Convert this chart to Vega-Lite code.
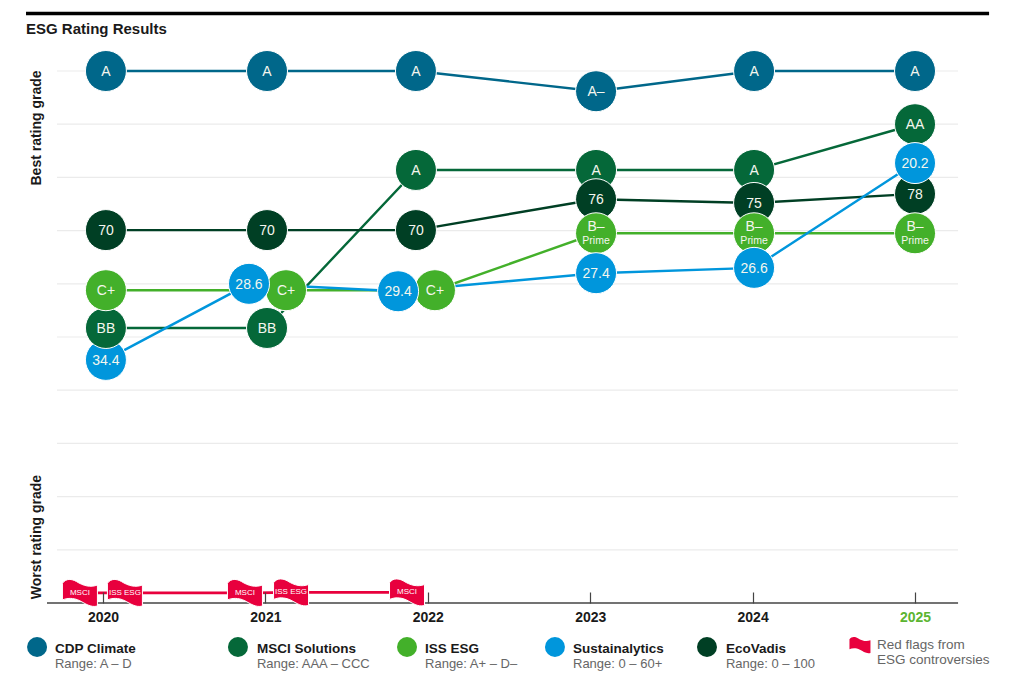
{
"$schema":"https://vega.github.io/schema/vega-lite/v6.json",
"width":1011,"height":675,"autosize":{"type":"none"},"padding":0,"background":"white",
"config":{"view":{"stroke":null},"text":{"font":"Liberation Sans"}},
"datasets":{
"ratings":[
{"series":"CDP Climate","x":2025.0,"y":10,"label":"A"},
{"series":"MSCI Solutions","x":2025.0,"y":9.0,"label":"AA"},
{"series":"EcoVadis","x":2025.0,"y":7.69,"label":"78"},
{"series":"ISS ESG","x":2025.0,"y":6.95,"label":"B–","sub":"Prime"},
{"series":"Sustainalytics","x":2025.0,"y":8.27,"label":"20.2"},
{"series":"CDP Climate","x":2024.009,"y":10,"label":"A"},
{"series":"MSCI Solutions","x":2024.009,"y":8.14,"label":"A"},
{"series":"EcoVadis","x":2024.009,"y":7.52,"label":"75"},
{"series":"ISS ESG","x":2024.009,"y":6.95,"label":"B–","sub":"Prime"},
{"series":"Sustainalytics","x":2024.009,"y":6.3,"label":"26.6"},
{"series":"CDP Climate","x":2023.036,"y":9.62,"label":"A–"},
{"series":"MSCI Solutions","x":2023.036,"y":8.14,"label":"A"},
{"series":"EcoVadis","x":2023.036,"y":7.59,"label":"76"},
{"series":"ISS ESG","x":2023.036,"y":6.95,"label":"B–","sub":"Prime"},
{"series":"Sustainalytics","x":2023.036,"y":6.2,"label":"27.4"},
{"series":"CDP Climate","x":2021.927,"y":10,"label":"A"},
{"series":"MSCI Solutions","x":2021.927,"y":8.14,"label":"A"},
{"series":"EcoVadis","x":2021.927,"y":7.01,"label":"70"},
{"series":"ISS ESG","x":2022.044,"y":5.88,"label":"C+"},
{"series":"Sustainalytics","x":2021.817,"y":5.86,"label":"29.4"},
{"series":"CDP Climate","x":2021.01,"y":10,"label":"A"},
{"series":"EcoVadis","x":2021.01,"y":7.01,"label":"70"},
{"series":"MSCI Solutions","x":2021.01,"y":5.17,"label":"BB"},
{"series":"ISS ESG","x":2021.127,"y":5.88,"label":"C+"},
{"series":"Sustainalytics","x":2020.899,"y":6.0,"label":"28.6"},
{"series":"CDP Climate","x":2020.018,"y":10,"label":"A"},
{"series":"EcoVadis","x":2020.018,"y":7.01,"label":"70"},
{"series":"Sustainalytics","x":2020.018,"y":4.57,"label":"34.4"},
{"series":"MSCI Solutions","x":2020.018,"y":5.17,"label":"BB"},
{"series":"ISS ESG","x":2020.018,"y":5.88,"label":"C+"}
],
"grid":[
{"y":1,"x":2019.717,"x2":2025.265},{"y":2,"x":2019.717,"x2":2025.265},{"y":3,"x":2019.717,"x2":2025.265},{"y":4,"x":2019.717,"x2":2025.265},{"y":5,"x":2019.717,"x2":2025.265},{"y":6,"x":2019.717,"x2":2025.265},{"y":7,"x":2019.717,"x2":2025.265},{"y":8,"x":2019.717,"x2":2025.265},{"y":9,"x":2019.717,"x2":2025.265},{"y":10,"x":2019.717,"x2":2025.265}],
"flags":[
{"x":2019.858,"y":0.19,"label":"MSCI"},
{"x":2020.135,"y":0.19,"label":"ISS ESG"},
{"x":2020.874,"y":0.19,"label":"MSCI"},
{"x":2021.158,"y":0.2,"label":"ISS ESG"},
{"x":2021.872,"y":0.2,"label":"MSCI"}
],
"legend":[
{"series":"CDP Climate","x":2019.594,"y":-0.827,"tx":2019.704,"ty":-0.865,"ry":-1.147,"range":"Range: A – D"},
{"series":"MSCI Solutions","x":2020.831,"y":-0.827,"tx":2020.948,"ty":-0.865,"ry":-1.147,"range":"Range: AAA – CCC"},
{"series":"ISS ESG","x":2021.872,"y":-0.827,"tx":2021.983,"ty":-0.865,"ry":-1.147,"range":"Range: A+ – D–"},
{"series":"Sustainalytics","x":2022.783,"y":-0.827,"tx":2022.894,"ty":-0.865,"ry":-1.147,"range":"Range: 0 – 60+"},
{"series":"EcoVadis","x":2023.719,"y":-0.827,"tx":2023.836,"ty":-0.865,"ry":-1.147,"range":"Range: 0 – 100"}
]
},
"encoding":{
"x":{"field":"x","type":"quantitative","title":null,"scale":{"domain":[2019.3658,2025.591],"nice":false,"zero":false},
"axis":{"values":[2020,2021,2022,2023,2024,2025],"format":"d","offset":-72,"domain":false,"grid":false,"tickSize":-11,"tickColor":"#444444","tickWidth":1.2,"labelPadding":18,"labelFont":"Liberation Sans","labelFontWeight":"bold","labelFontSize":14,"labelColor":{"condition":{"test":"datum.value==2025","value":"#5cb531"},"value":"#1a1a1a"},"zindex":1}},
"y":{"field":"y","type":"quantitative","title":null,"scale":{"domain":[-1.353,11.335],"nice":false,"zero":false},"axis":null}
},
"layer":[
{"data":{"name":"grid"},"mark":{"type":"rule","color":"#ebebeb","strokeWidth":1.2},"encoding":{"x2":{"field":"x2"}}},
{"data":{"values":[{"y":0,"x":2019.655,"x2":2025.265}]},"mark":{"type":"rule","color":"#444444","strokeWidth":1.3},"encoding":{"x2":{"field":"x2"}}},
{"data":{"values":[{"y":11.08,"x":2019.526,"x2":2025.456}]},"mark":{"type":"rule","color":"#000000","strokeWidth":3.5},"encoding":{"x2":{"field":"x2"}}},
{"data":{"name":"ratings"},"mark":{"type":"line","strokeWidth":2.4},"encoding":{"color":{"field":"series","type":"nominal","legend":null,"scale":{"domain":["CDP Climate","MSCI Solutions","ISS ESG","Sustainalytics","EcoVadis"],"range":["#00678a","#056839","#43b02a","#0096dc","#003f24"]}}}},
{"data":{"name":"ratings"},"mark":{"type":"circle","size":1681,"opacity":1,"stroke":"#ffffff","strokeWidth":1},"encoding":{"color":{"field":"series","type":"nominal"}}},
{"data":{"name":"ratings"},"transform":[{"filter":"!datum.sub"}],"mark":{"type":"text","fontSize":14,"color":"#f4f6ee","dy":1},"encoding":{"text":{"field":"label"}}},
{"data":{"name":"ratings"},"transform":[{"filter":"datum.sub"}],"mark":{"type":"text","fontSize":14,"color":"#f4f6ee","dy":-6},"encoding":{"text":{"field":"label"}}},
{"data":{"name":"ratings"},"transform":[{"filter":"datum.sub"}],"mark":{"type":"text","fontSize":10.5,"color":"#f4f6ee","dy":8},"encoding":{"text":{"field":"sub"}}},
{"data":{"name":"flags"},"mark":{"type":"line","color":"#ffffff","strokeWidth":5}},
{"data":{"name":"flags"},"mark":{"type":"line","color":"#e8003d","strokeWidth":2.8}},
{"data":{"name":"flags"},"mark":{"type":"point","filled":true,"opacity":1,"shape":"M-1,-0.55 C-0.8,-0.85 -0.45,-0.8 -0.2,-0.65 C0.2,-0.4 0.6,-0.3 1,-0.45 L1,0.75 C0.6,0.85 0.3,0.6 0,0.45 C-0.4,0.25 -0.75,0.3 -1,0.4 Z","size":1225,"fill":"#e8003d","stroke":"#ffffff","strokeWidth":1}},
{"data":{"name":"flags"},"mark":{"type":"text","fontSize":8,"color":"#ffffff"},"encoding":{"text":{"field":"label"}}},
{"data":{"values":[{"x":2019.594,"y":8.93,"t":"Best rating grade"},{"x":2019.594,"y":1.24,"t":"Worst rating grade"}]},"mark":{"type":"text","angle":270,"fontSize":14,"fontWeight":"bold","color":"#1a1a1a"},"encoding":{"text":{"field":"t"}}},
{"data":{"values":[{"x":2019.526,"y":10.79,"t":"ESG Rating Results"}]},"mark":{"type":"text","align":"left","fontSize":15,"fontWeight":"bold","color":"#1a1a1a"},"encoding":{"text":{"field":"t"}}},
{"data":{"name":"legend"},"mark":{"type":"circle","size":400,"opacity":1},"encoding":{"color":{"field":"series","type":"nominal"}}},
{"data":{"name":"legend"},"mark":{"type":"text","align":"left","fontSize":13.5,"fontWeight":"bold","color":"#1a1a1a"},"encoding":{"x":{"field":"tx","type":"quantitative"},"y":{"field":"ty","type":"quantitative"},"text":{"field":"series"}}},
{"data":{"name":"legend"},"mark":{"type":"text","align":"left","fontSize":13,"color":"#666666"},"encoding":{"x":{"field":"tx","type":"quantitative"},"y":{"field":"ry","type":"quantitative"},"text":{"field":"range"}}},
{"data":{"values":[{"x":2024.661,"y":-0.79}]},"mark":{"type":"point","filled":true,"opacity":1,"shape":"M-1,-0.55 C-0.8,-0.85 -0.45,-0.8 -0.2,-0.65 C0.2,-0.4 0.6,-0.3 1,-0.45 L1,0.75 C0.6,0.85 0.3,0.6 0,0.45 C-0.4,0.25 -0.75,0.3 -1,0.4 Z","size":441,"fill":"#e8003d"}},
{"data":{"values":[{"x":2024.766,"y":-0.79,"t":"Red flags from"},{"x":2024.766,"y":-1.07,"t":"ESG controversies"}]},"mark":{"type":"text","align":"left","fontSize":13.5,"color":"#666666"},"encoding":{"text":{"field":"t"}}}
]
}
